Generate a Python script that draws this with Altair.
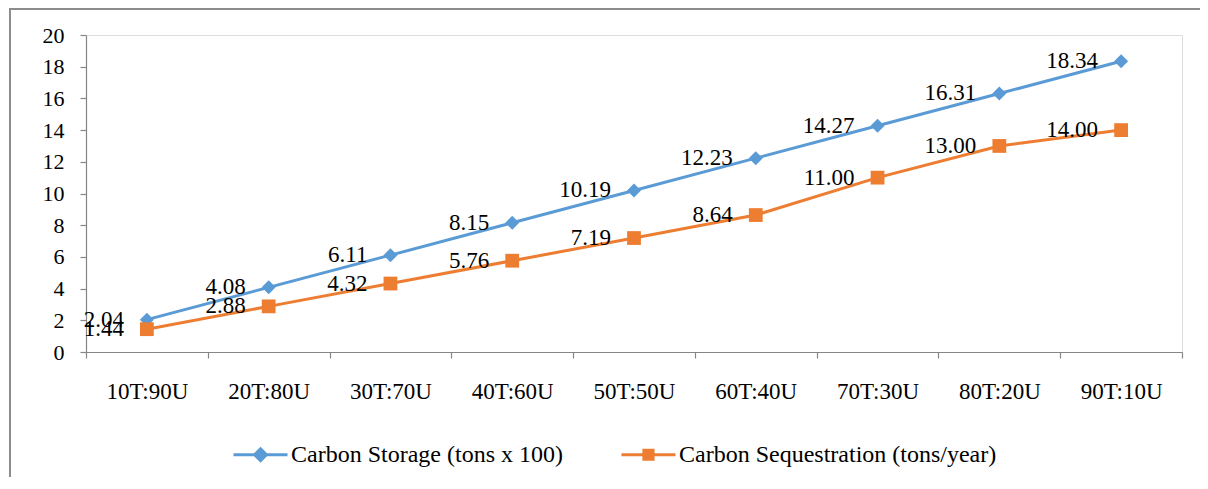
import altair as alt
import pandas as pd

categories = ["10T:90U", "20T:80U", "30T:70U", "40T:60U", "50T:50U",
              "60T:40U", "70T:30U", "80T:20U", "90T:10U"]
storage = [2.04, 4.08, 6.11, 8.15, 10.19, 12.23, 14.27, 16.31, 18.34]
sequestration = [1.44, 2.88, 4.32, 5.76, 7.19, 8.64, 11.00, 13.00, 14.00]
series_names = ["Carbon Storage (tons x 100)", "Carbon Sequestration (tons/year)"]
colors = ["#5B9BD5", "#ED7D31"]
y_ticks = [0, 2, 4, 6, 8, 10, 12, 14, 16, 18, 20]

rows = []
for c, v in zip(categories, storage):
    rows.append({"cat": c, "value": v, "series": series_names[0]})
for c, v in zip(categories, sequestration):
    rows.append({"cat": c, "value": v, "series": series_names[1]})
df = pd.DataFrame(rows)

W, H = 1096, 317
FONT = "Liberation Serif"
AXC = "#868686"

x_enc = alt.X("cat:N", sort=categories, title=None,
              scale=alt.Scale(type="band", paddingInner=0, paddingOuter=0),
              axis=alt.Axis(labelAngle=0, tickBand="extent", tickSize=6,
                            labelFont=FONT, labelFontSize=23, labelColor="black",
                            labelPadding=22, domainColor=AXC, tickColor=AXC,
                            domainWidth=1.2, tickWidth=1.2, grid=False))
y_enc = alt.Y("value:Q", title=None,
              scale=alt.Scale(domain=[0, 20], nice=False),
              axis=alt.Axis(values=y_ticks, tickSize=6, labelFont=FONT,
                            labelFontSize=22, labelColor="black", labelPadding=16,
                            domainColor=AXC, tickColor=AXC, domainWidth=1.2,
                            tickWidth=1.2, grid=False))

base = alt.Chart(df)
shapes = ["diamond", "square"]
sizes = [196, 190]

series_layers = []
for name, col, shp, sz in zip(series_names, colors, shapes, sizes):
    sub = base.transform_filter(alt.datum.series == name)
    series_layers.append(sub.mark_line(strokeWidth=3, color=col).encode(x=x_enc, y=y_enc))
    series_layers.append(sub.mark_point(shape=shp, filled=True, size=sz, opacity=1,
                                        color=col).encode(x=x_enc, y=y_enc))

labels = base.mark_text(align="right", baseline="middle", dx=-23, font=FONT,
                        fontSize=23, color="black").encode(
    x=x_enc, y=y_enc, text=alt.Text("value:Q", format=".2f"))

leg_paths = ["M-1,0H1M0,-0.22L0.22,0L0,0.22L-0.22,0Z",
             "M-1,0H1M-0.17,-0.17H0.17V0.17H-0.17Z"]
legend = alt.Legend(title=None, orient="none", legendX=146, legendY=391,
                    direction="horizontal", columnPadding=52, labelOffset=2,
                    labelFont=FONT, labelFontSize=24, labelColor="black",
                    labelLimit=0, symbolSize=2916, symbolStrokeWidth=3,
                    symbolOpacity=1, padding=0)
leg_layer = base.mark_point(filled=True, strokeWidth=3, opacity=0).encode(
    x=x_enc, y=y_enc,
    shape=alt.Shape("series:N", scale=alt.Scale(domain=series_names, range=leg_paths),
                    legend=legend),
    stroke=alt.Stroke("series:N", scale=alt.Scale(domain=series_names, range=colors),
                      legend=legend),
    fill=alt.Fill("series:N", scale=alt.Scale(domain=series_names, range=colors),
                  legend=legend),
)

frame_df = pd.DataFrame({"k": [0]})
frame_left = alt.Chart(frame_df).mark_rule(color="#8c8c8c", strokeWidth=2).encode(
    x=alt.value(-76), y=alt.value(-26), y2=alt.value(H + 130))
frame_top = alt.Chart(frame_df).mark_rule(color="#8c8c8c", strokeWidth=2).encode(
    x=alt.value(-77), x2=alt.value(W + 30), y=alt.value(-26))

chart = alt.layer(frame_left, frame_top, *series_layers, labels, leg_layer).properties(
    width=W, height=H,
    autosize=alt.AutoSizeParams(type="none"),
    padding={"left": 78, "top": 27, "right": 18, "bottom": 125},
).configure_view(strokeWidth=0).configure(background="white")

chart.save("out.html", embed_options={"renderer": "svg", "actions": False})
